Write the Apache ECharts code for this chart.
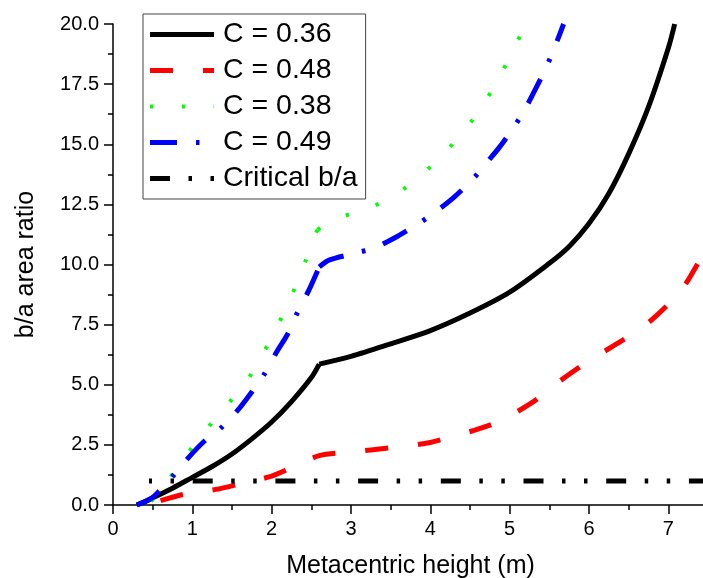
<!DOCTYPE html>
<html>
<head>
<meta charset="utf-8">
<script src="https://cdn.jsdelivr.net/npm/echarts@6/dist/echarts.min.js"></script>
<style>
html,body{margin:0;padding:0;background:#fff;}
#c{width:703px;height:578px;}
</style>
</head>
<body>
<div id="c"></div>
<script>
// ---- data ----
var seriesNames = ['C = 0.36', 'C = 0.48', 'C = 0.38', 'C = 0.49', 'Critical b/a'];

var c036 = [[0.3,0],[0.5,0.3],[0.75,0.7],[1.0,1.15],[1.25,1.6],[1.5,2.12],[1.75,2.75],[2.0,3.45],[2.25,4.3],[2.5,5.3],[2.6,5.86],
  [3.0,6.18],[3.5,6.7],[4.0,7.25],[4.5,7.98],[5.0,8.85],[5.5,10.05],[5.75,10.75],[6.0,11.7],[6.25,12.95],[6.5,14.6],[6.75,16.55],[7.0,19.0],[7.08,20]];

var c048 = [[0.6,0.18],[0.9,0.45],[1.3,0.65],[1.6,0.88],[2.0,1.2],[2.25,1.55],[2.6,2.05],[3.0,2.2],[3.5,2.38],[4.0,2.6],[4.3,2.88],
  [4.6,3.15],[4.9,3.53],[5.3,4.3],[5.55,4.95],[5.8,5.55],[6.05,6.1],[6.4,6.8],[6.7,7.45],[7.0,8.35],[7.2,9.1],[7.5,10.8]];

var c038 = [[0.48,0.15],[0.64,0.79],[0.88,1.87],[1.12,2.91],[1.4,4.02],[1.66,5.03],[1.87,6.17],[2.06,7.35],[2.23,8.55],[2.39,9.8],[2.52,11.05],
  [2.58,11.45],[2.8,11.9],[3.2,12.3],[3.57,12.93],[3.9,13.76],[4.2,14.72],[4.46,15.7],[4.69,16.77],[4.89,17.92],[5.07,19.08],[5.2,20]];

var c049 = [[0.3,0],[0.45,0.2],[0.56,0.5],[0.75,1.18],[0.96,2.0],[1.15,2.65],[1.36,3.2],[1.6,4.05],[1.75,4.7],[1.9,5.4],[2.07,6.4],
  [2.2,7.1],[2.31,7.9],[2.46,8.87],[2.6,9.9],[2.73,10.19],[3.05,10.47],[3.3,10.7],[3.6,11.2],[3.85,11.7],[4.07,12.2],[4.3,12.8],
  [4.55,13.6],[4.7,14.2],[4.87,14.87],[5.06,15.75],[5.2,16.5],[5.32,17.26],[5.47,18.27],[5.57,19.06],[5.68,20]];

var critical = [[0.454,1],[7.5,1]];

// x where each curve has its kink (curve is drawn smooth on each side)
var kinks = [2.6, null, 2.58, 2.6, null];

var xTicks = [0,1,2,3,4,5,6,7];
var yTicks = [0,2.5,5,7.5,10,12.5,15,17.5,20];

// ---- styles ----
var FONT = 'Arial, "Liberation Sans", sans-serif';
var styles = [
  {color:'#000000', width:5, type:'solid', dashOffset:0},
  {color:'#ff0000', width:5, type:[23,30], dashOffset:0},
  {color:'#00ff00', width:4, type:[3.3,28.5], dashOffset:0},
  {color:'#0000ff', width:5, type:[27,19,3.5,19], dashOffset:0},
  {color:'#000000', width:5, type:[20,18.5,3.5,18.5,3.5,18.7], dashOffset:39}
];
var datasets = [c036, c048, c038, c049, critical];

function mk(name, d, s, smooth, off){
  return {
    name: name, type:'line', data:d, symbol:'none', showSymbol:false,
    smooth:smooth, animation:false, silent:true, clip:true,
    lineStyle:{color:s.color, width:s.width, type:s.type, dashOffset:off, cap:'butt', join:'round'},
    itemStyle:{color:s.color}
  };
}
var series = [];
datasets.forEach(function(d, i){
  var s = styles[i], k = kinks[i];
  if (i === 4) { series.push(mk(seriesNames[i], d, s, false, s.dashOffset)); return; }
  if (k == null) { series.push(mk(seriesNames[i], d, s, 0.3, 0)); return; }
  var a = d.filter(function(p){ return p[0] <= k; });
  var b = d.filter(function(p){ return p[0] >= k; });
  series.push(mk(seriesNames[i], a, s, 0.3, 0));
  series.push(mk(seriesNames[i], b, s, 0.3, 0));
});

var legendData = seriesNames.map(function(n, i){
  var s = styles[i];
  return {name:n, itemStyle:{opacity:0},
    lineStyle:{color:s.color, width:s.width, type:s.type, dashOffset:0, cap:'butt', opacity:1}};
});

var axisCommon = {
  axisLine:{show:true, onZero:false, lineStyle:{color:'#000', width:1.5}},
  axisTick:{show:true, inside:false, length:9, lineStyle:{color:'#000', width:1.5}},
  minorTick:{show:true, splitNumber:2, length:5, lineStyle:{color:'#000', width:1.5}},
  splitLine:{show:false}, minorSplitLine:{show:false}
};

var chart = echarts.init(document.getElementById('c'), null, {renderer:'canvas'});
chart.setOption({
  animation:false,
  backgroundColor:'#ffffff',
  grid:{left:113, right:-5, top:24, bottom:73, containLabel:false, outerBoundsMode:'none'},
  legend:{
    orient:'vertical', left:143, top:14,
    data:legendData,
    itemWidth:64, itemHeight:14, itemGap:6,
    padding:[5.5,8,5.5,4.5],
    borderColor:'#444', borderWidth:1, backgroundColor:'#fff',
    textStyle:{fontFamily:FONT, fontSize:28.5, color:'#000', lineHeight:30, padding:[0,0,0,4]},
    selectedMode:false
  },
  xAxis:Object.assign({
    type:'value', min:xTicks[0], max:7.5, interval:1,
    name:'Metacentric height (m)', nameLocation:'middle', nameGap:49,
    nameTextStyle:{fontFamily:FONT, fontSize:25, color:'#000'},
    axisLabel:{fontFamily:FONT, fontSize:20, color:'#000', margin:14, showMaxLabel:false,
      formatter:function(v){ return xTicks.indexOf(v) >= 0 ? String(v) : ''; }}
  }, axisCommon),
  yAxis:Object.assign({
    type:'value', min:yTicks[0], max:yTicks[yTicks.length-1], interval:2.5,
    name:'b/a area ratio', nameLocation:'middle', nameGap:74, nameRotate:90,
    nameTextStyle:{fontFamily:FONT, fontSize:25, color:'#000'},
    axisLabel:{fontFamily:FONT, fontSize:20, color:'#000', margin:14,
      formatter:function(v){ return v.toFixed(1); }}
  }, axisCommon),
  series:series
});
</script>
</body>
</html>
